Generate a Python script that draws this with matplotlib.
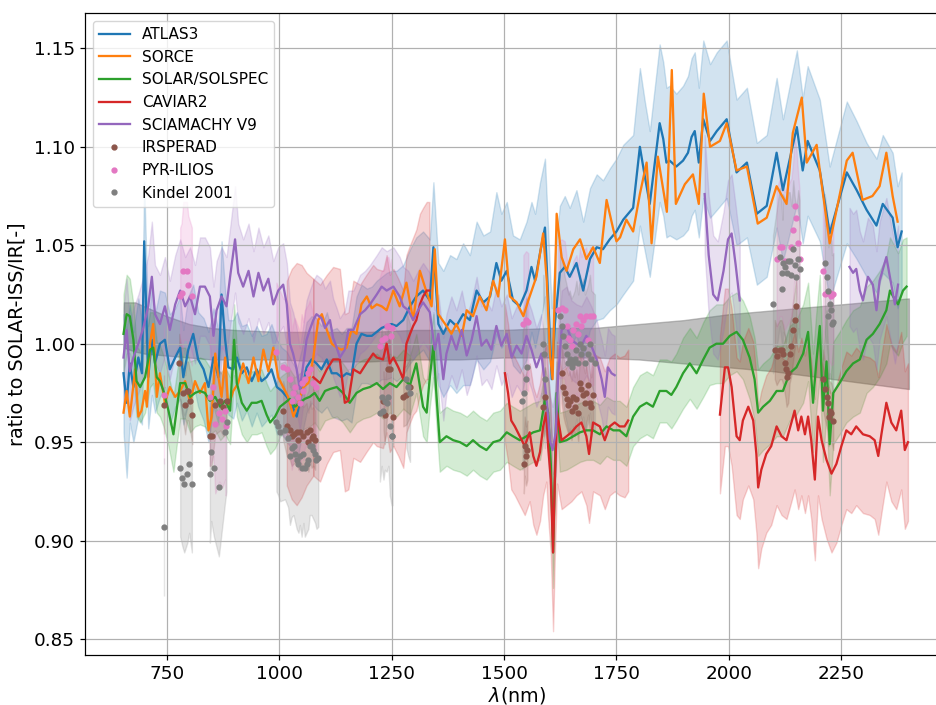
import numpy as np
import matplotlib
matplotlib.use("Agg")
import matplotlib.pyplot as plt

# ---------------- data (wavelength nm, ratio, uncertainty) ----------------
ATLAS3 = np.array([
    (654, 0.985, 0.030), (661, 0.970, 0.038), (668, 0.990, 0.030), (676, 0.978, 0.028),
    (687, 0.993, 0.030), (695, 0.985, 0.026), (700, 1.052, 0.030), (709, 0.983, 0.026),
    (717, 1.002, 0.028), (724, 0.990, 0.025), (735, 1.000, 0.027), (746, 1.002, 0.024),
    (757, 0.987, 0.028), (769, 0.993, 0.025), (780, 0.998, 0.026), (787, 0.983, 0.024),
    (798, 0.997, 0.027), (809, 1.005, 0.025), (820, 0.992, 0.024), (832, 0.987, 0.026),
    (843, 0.978, 0.028), (854, 0.993, 0.025), (865, 0.983, 0.024), (872, 1.025, 0.027),
    (880, 1.002, 0.025), (887, 0.988, 0.024), (898, 0.987, 0.025), (906, 0.993, 0.023),
    (917, 0.985, 0.024), (928, 0.988, 0.022), (939, 0.981, 0.023), (950, 0.987, 0.022),
    (961, 0.981, 0.023), (972, 0.983, 0.022), (983, 0.987, 0.023), (995, 0.978, 0.024),
    (1006, 0.976, 0.022), (1017, 0.973, 0.023), (1028, 0.969, 0.022), (1039, 0.963, 0.024),
    (1050, 0.975, 0.022), (1061, 0.988, 0.023), (1072, 0.992, 0.022), (1083, 0.990, 0.023),
    (1094, 0.987, 0.022), (1106, 0.992, 0.024), (1117, 0.985, 0.022), (1128, 0.985, 0.023),
    (1139, 0.983, 0.022), (1150, 0.985, 0.023), (1161, 0.984, 0.024), (1172, 1.000, 0.024),
    (1183, 1.005, 0.025), (1195, 1.004, 0.024), (1206, 1.004, 0.025), (1217, 1.006, 0.026),
    (1228, 1.008, 0.026), (1239, 1.009, 0.027), (1250, 1.010, 0.027), (1261, 1.009, 0.028),
    (1276, 1.012, 0.028), (1291, 1.019, 0.029), (1305, 1.024, 0.030), (1320, 1.027, 0.030),
    (1335, 1.022, 0.031), (1343, 1.049, 0.033), (1354, 1.010, 0.031), (1365, 1.005, 0.032),
    (1380, 1.012, 0.033), (1394, 1.009, 0.034), (1409, 1.015, 0.036), (1424, 1.012, 0.033),
    (1439, 1.027, 0.035), (1454, 1.021, 0.034), (1469, 1.024, 0.033), (1483, 1.041, 0.036),
    (1494, 1.032, 0.034), (1506, 1.037, 0.035), (1520, 1.022, 0.033), (1535, 1.019, 0.034),
    (1550, 1.027, 0.035), (1561, 1.039, 0.033), (1569, 1.032, 0.034), (1580, 1.046, 0.036),
    (1591, 1.059, 0.035), (1598, 1.024, 0.034), (1606, 0.982, 0.036), (1613, 1.010, 0.035),
    (1624, 1.036, 0.034), (1635, 1.039, 0.036), (1646, 1.034, 0.035), (1661, 1.041, 0.037),
    (1676, 1.027, 0.035), (1691, 1.043, 0.036), (1706, 1.049, 0.037), (1720, 1.048, 0.035),
    (1735, 1.053, 0.036), (1750, 1.057, 0.037), (1765, 1.063, 0.038), (1787, 1.069, 0.037),
    (1802, 1.100, 0.040), (1813, 1.085, 0.038), (1824, 1.071, 0.037), (1846, 1.112, 0.040),
    (1854, 1.104, 0.039), (1861, 1.092, 0.038), (1868, 1.093, 0.038), (1883, 1.090, 0.037),
    (1898, 1.093, 0.038), (1909, 1.097, 0.039), (1917, 1.105, 0.040), (1924, 1.108, 0.040),
    (1933, 1.092, 0.038), (1943, 1.114, 0.040), (1958, 1.103, 0.039), (1973, 1.108, 0.040),
    (1995, 1.114, 0.040), (2017, 1.087, 0.037), (2040, 1.092, 0.038), (2062, 1.066, 0.036),
    (2084, 1.070, 0.036), (2106, 1.097, 0.038), (2120, 1.078, 0.036), (2151, 1.110, 0.039),
    (2164, 1.088, 0.037), (2175, 1.103, 0.038), (2202, 1.088, 0.036), (2224, 1.056, 0.034),
    (2262, 1.087, 0.036), (2284, 1.078, 0.035), (2306, 1.068, 0.034), (2328, 1.060, 0.034),
    (2342, 1.071, 0.035), (2364, 1.064, 0.033), (2375, 1.049, 0.031), (2384, 1.057, 0.030),
])

SORCE = np.array([
    (654, 0.965), (661, 0.976), (668, 0.963), (680, 0.987), (687, 0.963), (694, 0.966),
    (702, 0.976), (706, 0.968), (713, 1.000), (720, 1.010), (728, 0.973), (735, 0.985),
    (746, 0.970), (757, 0.978), (769, 0.973), (780, 0.976), (791, 0.981), (802, 0.970),
    (813, 0.981), (824, 0.975), (835, 0.980), (843, 0.956), (850, 0.963), (858, 0.995),
    (865, 0.983), (872, 0.973), (880, 0.993), (887, 0.968), (898, 0.976), (909, 0.980),
    (920, 0.990), (932, 0.980), (943, 0.993), (954, 0.981), (965, 0.997), (976, 0.986),
    (987, 0.998), (998, 0.983), (1009, 0.978), (1020, 0.973), (1032, 0.963), (1043, 0.970),
    (1054, 0.978), (1065, 0.980), (1076, 0.993), (1087, 1.012), (1095, 1.015), (1106, 1.007),
    (1117, 1.000), (1128, 0.998), (1139, 0.997), (1150, 0.998), (1161, 1.007), (1172, 1.005),
    (1183, 1.020), (1195, 1.024), (1206, 1.018), (1217, 1.020), (1228, 1.019), (1239, 1.017),
    (1254, 1.027), (1268, 1.019), (1283, 1.031), (1298, 1.012), (1313, 1.037), (1328, 1.026),
    (1339, 1.019), (1346, 1.048), (1354, 1.015), (1363, 1.012), (1372, 1.009), (1383, 1.005),
    (1394, 1.010), (1406, 1.004), (1417, 1.017), (1431, 1.014), (1446, 1.024), (1461, 1.017),
    (1476, 1.032), (1487, 1.024), (1502, 1.053), (1513, 1.024), (1528, 1.021), (1543, 1.014),
    (1554, 1.022), (1572, 1.034), (1587, 1.056), (1595, 1.032), (1602, 0.995), (1608, 0.982),
    (1617, 1.066), (1628, 1.044), (1639, 1.037), (1654, 1.048), (1669, 1.053), (1683, 1.043),
    (1698, 1.049), (1713, 1.041), (1728, 1.073), (1743, 1.058), (1750, 1.052), (1758, 1.054),
    (1772, 1.063), (1787, 1.057), (1802, 1.076), (1817, 1.092), (1828, 1.051), (1842, 1.095),
    (1862, 1.067), (1873, 1.139), (1882, 1.071), (1902, 1.081), (1920, 1.086), (1933, 1.071),
    (1944, 1.127), (1958, 1.100), (1980, 1.103), (1995, 1.112), (2017, 1.088), (2040, 1.090),
    (2064, 1.061), (2084, 1.064), (2106, 1.080), (2128, 1.071), (2142, 1.107), (2162, 1.125),
    (2173, 1.092), (2195, 1.101), (2202, 1.088), (2224, 1.051), (2262, 1.093), (2275, 1.097),
    (2297, 1.073), (2319, 1.075), (2335, 1.080), (2350, 1.097), (2364, 1.075), (2375, 1.062),
])

SOLSPEC = np.array([
    (654, 1.005, 0.020), (661, 1.015, 0.020), (668, 1.014, 0.019), (676, 1.002, 0.018),
    (683, 0.981, 0.018), (691, 0.978, 0.018), (702, 0.983, 0.018), (713, 0.997, 0.019),
    (720, 0.998, 0.018), (728, 0.983, 0.018), (735, 0.981, 0.018), (743, 0.976, 0.018),
    (754, 0.966, 0.018), (765, 0.954, 0.019), (772, 0.966, 0.018), (780, 0.980, 0.018),
    (791, 0.980, 0.018), (802, 0.973, 0.018), (813, 0.975, 0.017), (824, 0.976, 0.017),
    (835, 0.975, 0.017), (846, 0.971, 0.017), (858, 0.973, 0.017), (869, 0.968, 0.017),
    (880, 0.971, 0.017), (891, 0.966, 0.017), (900, 1.002, 0.018), (906, 0.980, 0.017),
    (917, 0.970, 0.016), (928, 0.966, 0.016), (939, 0.970, 0.016), (950, 0.970, 0.016),
    (961, 0.971, 0.016), (972, 0.964, 0.016), (980, 0.960, 0.016), (991, 0.963, 0.016),
    (1002, 0.968, 0.015), (1013, 0.970, 0.015), (1024, 0.972, 0.015), (1035, 0.968, 0.015),
    (1046, 0.970, 0.015), (1057, 0.972, 0.015), (1068, 0.973, 0.015), (1079, 0.975, 0.015),
    (1090, 0.971, 0.015), (1102, 0.976, 0.015), (1113, 0.977, 0.015), (1128, 0.978, 0.015),
    (1142, 0.975, 0.015), (1157, 0.970, 0.015), (1172, 0.975, 0.015), (1187, 0.977, 0.015),
    (1202, 0.978, 0.015), (1217, 0.980, 0.015), (1231, 0.977, 0.015), (1246, 0.980, 0.015),
    (1261, 0.978, 0.015), (1276, 0.982, 0.015), (1291, 0.979, 0.015), (1305, 0.990, 0.015),
    (1320, 0.968, 0.015), (1328, 0.965, 0.015), (1335, 0.983, 0.015), (1343, 0.999, 0.016),
    (1350, 0.973, 0.015), (1357, 0.950, 0.015), (1372, 0.953, 0.015), (1387, 0.951, 0.015),
    (1402, 0.950, 0.015), (1417, 0.948, 0.015), (1431, 0.951, 0.015), (1446, 0.948, 0.015),
    (1461, 0.946, 0.015), (1476, 0.950, 0.015), (1491, 0.951, 0.015), (1506, 0.955, 0.015),
    (1520, 0.953, 0.015), (1535, 0.951, 0.015), (1550, 0.953, 0.015), (1565, 0.955, 0.015),
    (1580, 0.956, 0.015), (1591, 0.972, 0.016), (1598, 0.965, 0.016), (1604, 0.939, 0.017),
    (1609, 0.894, 0.018), (1617, 0.975, 0.016), (1624, 0.950, 0.015), (1639, 0.951, 0.015),
    (1654, 0.953, 0.015), (1669, 0.955, 0.015), (1683, 0.956, 0.015), (1698, 0.956, 0.015),
    (1713, 0.954, 0.015), (1728, 0.958, 0.015), (1743, 0.956, 0.015), (1757, 0.956, 0.015),
    (1772, 0.953, 0.015), (1787, 0.963, 0.015), (1802, 0.968, 0.016), (1817, 0.970, 0.016),
    (1831, 0.968, 0.016), (1846, 0.976, 0.016), (1861, 0.976, 0.016), (1872, 0.974, 0.017),
    (1883, 0.978, 0.017), (1898, 0.985, 0.018), (1913, 0.990, 0.018), (1928, 0.985, 0.018),
    (1943, 0.992, 0.019), (1957, 0.998, 0.019), (1972, 1.000, 0.020), (1987, 1.000, 0.020),
    (2002, 1.004, 0.020), (2017, 1.006, 0.020), (2031, 1.002, 0.020), (2046, 0.993, 0.021),
    (2057, 0.982, 0.021), (2065, 0.965, 0.022), (2076, 0.968, 0.022), (2091, 0.971, 0.022),
    (2106, 0.976, 0.023), (2120, 0.976, 0.023), (2135, 0.985, 0.024), (2150, 0.988, 0.024),
    (2165, 0.995, 0.025), (2176, 1.006, 0.025), (2187, 0.970, 0.025), (2194, 0.990, 0.025),
    (2202, 1.009, 0.026), (2209, 0.966, 0.026), (2217, 0.991, 0.026), (2224, 0.949, 0.026),
    (2232, 0.975, 0.026), (2246, 0.980, 0.026), (2261, 0.986, 0.026), (2276, 0.990, 0.027),
    (2291, 0.992, 0.027), (2306, 1.002, 0.027), (2320, 1.005, 0.027), (2335, 1.010, 0.027),
    (2350, 1.017, 0.027), (2358, 1.027, 0.027), (2365, 1.024, 0.027), (2376, 1.020, 0.026),
    (2387, 1.027, 0.026), (2395, 1.029, 0.025),
])

CAVIAR2 = np.array([
    (1076, 0.983, 0.050), (1091, 0.980, 0.050), (1106, 0.987, 0.048),
    (1120, 0.992, 0.047), (1135, 0.992, 0.046), (1146, 0.970, 0.045), (1154, 0.971, 0.045),
    (1165, 0.987, 0.045), (1180, 0.985, 0.045), (1194, 0.990, 0.045), (1209, 0.995, 0.045),
    (1217, 0.993, 0.045), (1231, 0.992, 0.045), (1239, 1.000, 0.045), (1246, 0.990, 0.045),
    (1254, 0.993, 0.045), (1265, 0.988, 0.045), (1276, 0.982, 0.045), (1283, 1.000, 0.045),
    (1291, 1.005, 0.045), (1298, 1.009, 0.045), (1305, 1.012, 0.046), (1313, 1.020, 0.046),
    (1320, 1.024, 0.045), (1328, 1.027, 0.045), (1334, 1.027, 0.045),
    (1502, 0.985, 0.035), (1509, 0.975, 0.035), (1516, 0.961, 0.035), (1524, 0.958, 0.035),
    (1535, 0.953, 0.035), (1546, 0.948, 0.035), (1557, 0.955, 0.035), (1565, 0.943, 0.035),
    (1572, 0.938, 0.035), (1580, 0.945, 0.035), (1587, 0.958, 0.035), (1594, 0.965, 0.035),
    (1598, 0.948, 0.036), (1604, 0.931, 0.038), (1609, 0.894, 0.040), (1613, 0.931, 0.038),
    (1618, 0.965, 0.036), (1628, 0.951, 0.035), (1639, 0.953, 0.035), (1650, 0.955, 0.035),
    (1661, 0.958, 0.035), (1672, 0.960, 0.035), (1683, 0.953, 0.035), (1689, 0.944, 0.035),
    (1698, 0.960, 0.035), (1713, 0.958, 0.035), (1724, 0.951, 0.035), (1735, 0.958, 0.035),
    (1746, 0.960, 0.035), (1757, 0.958, 0.035), (1768, 0.958, 0.036), (1776, 0.961, 0.036),
    (1980, 0.964, 0.040), (1991, 0.988, 0.040), (1998, 0.988, 0.040), (2006, 0.978, 0.040),
    (2017, 0.953, 0.040), (2024, 0.951, 0.040), (2031, 0.961, 0.040), (2043, 0.968, 0.040),
    (2054, 0.961, 0.040), (2061, 0.944, 0.040), (2065, 0.927, 0.041), (2072, 0.936, 0.040),
    (2083, 0.944, 0.040), (2094, 0.948, 0.040), (2106, 0.958, 0.040), (2117, 0.953, 0.040),
    (2128, 0.951, 0.040), (2139, 0.960, 0.040), (2146, 0.966, 0.040), (2154, 0.956, 0.040),
    (2161, 0.963, 0.040), (2169, 0.954, 0.040), (2176, 0.963, 0.040), (2183, 0.951, 0.040),
    (2191, 0.931, 0.041), (2198, 0.963, 0.040), (2206, 0.951, 0.040), (2217, 0.941, 0.040),
    (2228, 0.934, 0.040), (2239, 0.939, 0.040), (2250, 0.948, 0.040), (2261, 0.956, 0.040),
    (2272, 0.954, 0.040), (2283, 0.958, 0.040), (2298, 0.954, 0.040), (2313, 0.953, 0.040),
    (2324, 0.951, 0.040), (2332, 0.943, 0.040), (2339, 0.954, 0.040), (2350, 0.970, 0.040),
    (2361, 0.960, 0.040), (2372, 0.956, 0.040), (2383, 0.966, 0.040), (2391, 0.946, 0.040),
    (2398, 0.950, 0.040),
])
# CAVIAR2 uncertainty envelope ahead of its first plotted point (nm, low, high)
CAVIAR2_LEAD_BAND = np.array([
    (1017, 0.928, 1.032), (1028, 0.921, 1.038), (1039, 0.918, 1.041), (1050, 0.922, 1.040),
    (1061, 0.928, 1.036), (1076, 0.933, 1.033),
])

SCIAMACHY = np.array([
    (654, 0.993, 0.025), (661, 1.007, 0.026), (668, 0.986, 0.025), (676, 0.993, 0.025),
    (687, 1.000, 0.025), (698, 1.008, 0.026), (709, 1.019, 0.026), (717, 1.034, 0.028),
    (724, 1.015, 0.025), (735, 1.010, 0.025), (746, 1.019, 0.025), (757, 1.007, 0.025),
    (769, 1.020, 0.025), (780, 1.027, 0.026), (791, 1.019, 0.025), (802, 1.024, 0.025),
    (813, 1.015, 0.025), (824, 1.029, 0.025), (835, 1.029, 0.025), (846, 1.024, 0.025),
    (854, 1.004, 0.025), (861, 1.017, 0.025), (872, 1.024, 0.025), (883, 1.019, 0.025),
    (891, 1.034, 0.025), (902, 1.053, 0.027), (909, 1.036, 0.025), (920, 1.029, 0.024),
    (932, 1.037, 0.024), (943, 1.024, 0.023), (954, 1.036, 0.023), (965, 1.027, 0.022),
    (976, 1.033, 0.022), (987, 1.020, 0.022), (998, 1.027, 0.022), (1009, 1.030, 0.021),
    (1017, 1.020, 0.021), (1024, 1.000, 0.021), (1031, 0.995, 0.021), (1039, 0.987, 0.021),
    (1046, 0.977, 0.021), (1054, 0.990, 0.020), (1061, 1.002, 0.020), (1068, 1.007, 0.020),
    (1076, 1.012, 0.020), (1083, 1.015, 0.020), (1094, 1.013, 0.020), (1102, 1.008, 0.020),
    (1113, 1.012, 0.020), (1120, 1.003, 0.020), (1128, 0.998, 0.020), (1135, 0.993, 0.020),
    (1146, 0.997, 0.020), (1154, 1.007, 0.020), (1165, 1.007, 0.020), (1180, 1.015, 0.020),
    (1191, 1.017, 0.020), (1202, 1.020, 0.020), (1217, 1.025, 0.020), (1228, 1.029, 0.020),
    (1239, 1.027, 0.020), (1254, 1.029, 0.020), (1268, 1.024, 0.020), (1276, 1.019, 0.020),
    (1287, 1.017, 0.020), (1298, 1.012, 0.020), (1309, 1.017, 0.020), (1320, 1.021, 0.020),
    (1335, 1.016, 0.020), (1346, 0.997, 0.020), (1354, 1.005, 0.020), (1365, 0.982, 0.021),
    (1372, 0.995, 0.020), (1383, 1.004, 0.020), (1394, 0.997, 0.020), (1406, 1.007, 0.020),
    (1417, 0.994, 0.020), (1428, 1.002, 0.020), (1439, 1.014, 0.020), (1450, 0.999, 0.020),
    (1461, 1.002, 0.020), (1472, 0.997, 0.020), (1483, 1.009, 0.020), (1494, 0.999, 0.020),
    (1506, 1.005, 0.020), (1517, 0.993, 0.020), (1528, 0.999, 0.020), (1539, 0.995, 0.020),
    (1550, 1.004, 0.020), (1561, 0.997, 0.020), (1572, 0.988, 0.020), (1583, 0.995, 0.020),
    (1595, 0.971, 0.021), (1602, 0.951, 0.022), (1608, 0.946, 0.022), (1615, 0.955, 0.022),
    (1620, 0.982, 0.021), (1628, 1.007, 0.020), (1639, 1.009, 0.020), (1650, 1.002, 0.020),
    (1661, 1.000, 0.020), (1672, 0.999, 0.020), (1683, 1.004, 0.020), (1694, 0.999, 0.020),
    (1706, 0.992, 0.020), (1717, 0.982, 0.020), (1724, 0.973, 0.021), (1731, 0.988, 0.020),
    (1739, 0.985, 0.020), (1746, 0.984, 0.020),
    (1946, 1.076, 0.030), (1955, 1.045, 0.030), (1965, 1.025, 0.030), (1975, 1.022, 0.030),
    (1988, 1.037, 0.030), (1998, 1.053, 0.030), (2006, 1.056, 0.030), (2015, 1.040, 0.030),
    (2024, 1.022, 0.030),
    (2268, 1.039, 0.030), (2276, 1.036, 0.030), (2283, 1.038, 0.030), (2291, 1.027, 0.030),
    (2298, 1.022, 0.030), (2309, 1.034, 0.030), (2320, 1.030, 0.030), (2328, 1.017, 0.030),
    (2335, 1.032, 0.030), (2350, 1.044, 0.030), (2361, 1.030, 0.030), (2369, 1.020, 0.030),
    (2376, 1.030, 0.030),
])

IRSPERAD = np.array([
    (745, 0.969), (778, 0.990), (787, 0.975), (791, 0.969), (795, 0.976), (798, 0.976),
    (802, 0.971), (807, 0.964), (846, 0.953), (850, 0.953), (858, 0.969), (869, 0.971),
    (876, 0.968), (883, 0.971), (1009, 0.966), (1017, 0.958), (1024, 0.956), (1028, 0.953),
    (1032, 0.954), (1039, 0.955), (1043, 0.951), (1046, 0.955), (1054, 0.953), (1061, 0.955),
    (1065, 0.950), (1069, 0.956), (1072, 0.952), (1076, 0.953), (1080, 0.951), (1232, 0.971),
    (1235, 0.964), (1243, 0.987), (1246, 0.987), (1254, 0.963), (1276, 0.973), (1283, 0.974),
    (1291, 0.978), (1544, 0.939), (1546, 0.948), (1549, 0.943), (1552, 0.946), (1587, 0.968),
    (1591, 0.973), (1628, 0.985), (1632, 0.978), (1635, 0.975), (1639, 0.972), (1643, 0.969),
    (1646, 0.971), (1650, 0.966), (1654, 0.973), (1657, 0.968), (1661, 0.972), (1665, 0.965),
    (1669, 0.980), (1672, 0.977), (1676, 0.974), (1680, 0.970), (1683, 0.975), (1687, 0.979),
    (1691, 0.970), (1694, 0.968), (1698, 0.974), (2102, 0.997), (2106, 0.994), (2113, 0.997),
    (2117, 0.997), (2120, 0.995), (2124, 0.990), (2126, 0.987), (2128, 0.983), (2132, 0.985),
    (2135, 0.995), (2139, 0.999), (2143, 1.007), (2146, 1.012), (2150, 1.019), (2209, 0.982),
    (2213, 0.977), (2217, 0.973), (2220, 0.970), (2222, 0.963), (2224, 0.966), (2228, 0.965),
    (2232, 0.961),
])

PYR_ILIOS = np.array([
    (745, 0.974), (780, 1.024), (783, 1.026), (787, 1.037), (795, 1.037), (798, 1.030),
    (806, 1.024), (846, 0.973), (854, 0.978), (858, 0.959), (867, 0.965), (874, 0.962),
    (880, 0.966), (881, 0.958), (994, 0.996), (1009, 0.988), (1017, 0.987), (1024, 0.982),
    (1028, 0.971), (1031, 0.975), (1035, 0.978), (1043, 0.973), (1046, 0.970), (1050, 0.980),
    (1054, 0.976), (1057, 0.982), (1065, 0.985), (1068, 0.987), (1076, 0.980), (1083, 0.978),
    (1224, 0.999), (1228, 1.002), (1235, 1.003), (1239, 1.009), (1243, 1.009), (1248, 1.004),
    (1250, 1.008), (1543, 1.010), (1549, 1.012), (1554, 1.011), (1620, 1.017), (1628, 1.018),
    (1635, 1.017), (1639, 1.009), (1643, 1.003), (1646, 1.002), (1650, 0.999), (1654, 1.007),
    (1661, 1.010), (1665, 1.005), (1669, 1.014), (1672, 1.009), (1676, 1.012), (1683, 1.014),
    (1687, 1.002), (1691, 1.014), (1698, 1.014), (2106, 1.043), (2113, 1.049), (2117, 1.049),
    (2124, 1.042), (2139, 1.049), (2143, 1.058), (2146, 1.070), (2150, 1.064), (2154, 1.051),
    (2157, 1.043), (2209, 1.037), (2213, 1.025), (2220, 1.026), (2224, 1.026), (2228, 1.024),
    (2232, 1.025),
])

KINDEL = np.array([
    (745, 0.907), (780, 0.937), (785, 0.932), (789, 0.929), (796, 0.934), (800, 0.939),
    (806, 0.929), (846, 0.934), (849, 0.945), (855, 0.937), (866, 0.927), (880, 0.955),
    (883, 0.960), (994, 0.960), (998, 0.958), (1002, 0.955), (1013, 0.956), (1020, 0.952),
    (1024, 0.943), (1028, 0.947), (1032, 0.948), (1036, 0.944), (1039, 0.941), (1043, 0.939),
    (1046, 0.943), (1050, 0.937), (1054, 0.944), (1057, 0.937), (1061, 0.939), (1065, 0.941),
    (1068, 0.948), (1072, 0.948), (1076, 0.946), (1080, 0.944), (1083, 0.941), (1087, 0.942),
    (1224, 0.965), (1228, 0.973), (1232, 0.966), (1235, 0.971), (1239, 0.970), (1243, 0.973),
    (1246, 0.958), (1250, 0.953), (1252, 0.953), (1283, 0.982), (1287, 0.978), (1291, 0.975),
    (1541, 0.971), (1545, 0.975), (1548, 0.982), (1550, 0.988), (1587, 1.000), (1589, 0.995),
    (1591, 0.982), (1624, 1.014), (1628, 1.009), (1632, 1.004), (1635, 0.999), (1639, 0.995),
    (1643, 0.990), (1646, 0.992), (1650, 0.988), (1654, 0.990), (1657, 0.992), (1661, 0.997),
    (1665, 0.990), (1669, 1.000), (1672, 0.995), (1676, 0.998), (1680, 0.990), (1687, 0.995),
    (1691, 1.000), (1694, 0.992), (1702, 0.990), (2098, 1.020), (2113, 1.044), (2117, 1.036),
    (2119, 1.028), (2120, 1.041), (2124, 1.039), (2128, 1.036), (2132, 1.042), (2135, 1.042),
    (2139, 1.035), (2143, 1.048), (2146, 1.040), (2150, 1.034), (2154, 1.043), (2157, 1.038),
    (2213, 1.041), (2217, 1.034), (2220, 1.027), (2221, 1.014), (2224, 1.020), (2228, 1.017),
    (2229, 1.010), (2232, 1.011),
])

IRSPERAD_UNC = 0.015
PYR_ILIOS_UNC = 0.035
KINDEL_UNC = 0.035

# reference (SOLAR-ISS) uncertainty envelope
REF_NM = [655, 680, 700, 750, 800, 850, 900, 1000, 1100, 1200, 1300, 1400, 1500,
          1600, 1700, 1800, 1900, 2000, 2100, 2200, 2300, 2400]
REF_HI = [1.021, 1.021, 1.019, 1.014, 1.010, 1.008, 1.007, 1.006, 1.006, 1.006, 1.007,
          1.007, 1.007, 1.008, 1.008, 1.010, 1.012, 1.015, 1.017, 1.019, 1.021, 1.023]
REF_LO = [0.998, 0.996, 0.995, 0.994, 0.993, 0.992, 0.992, 0.992, 0.991, 0.991, 0.992,
          0.992, 0.993, 0.993, 0.993, 0.992, 0.990, 0.988, 0.986, 0.983, 0.980, 0.977]

# ---------------- drawing ----------------
S = 1.1
plt.rcParams.update({
    "font.size": 12 * S,
    "axes.linewidth": 0.8 * S,
    "xtick.major.width": 0.8 * S,
    "ytick.major.width": 0.8 * S,
    "xtick.major.size": 3.5 * S,
    "ytick.major.size": 3.5 * S,
    "grid.linewidth": 0.8 * S,
})

fig = plt.figure(figsize=(9.36, 7.05), dpi=100)
ax = fig.add_axes([0.0911, 0.0709, 0.9217, 0.9102])


def split(arr, gap):
    arr = arr[np.argsort(arr[:, 0], kind="stable")]
    idx = np.where(np.diff(arr[:, 0]) > gap)[0] + 1
    return np.split(arr, idx)


ax.fill_between(REF_NM, REF_LO, REF_HI, color="gray", alpha=0.5)

LW = 1.5 * S
series = [
    (ATLAS3, "tab:blue", "ATLAS3", True),
    (SORCE, "tab:orange", "SORCE", False),
    (SOLSPEC, "tab:green", "SOLAR/SOLSPEC", True),
    (CAVIAR2, "tab:red", "CAVIAR2", True),
    (SCIAMACHY, "tab:purple", "SCIAMACHY V9", True),
]
for data, col, lab, band in series:
    if lab == "CAVIAR2":
        ax.fill_between(CAVIAR2_LEAD_BAND[:, 0], CAVIAR2_LEAD_BAND[:, 1],
                        CAVIAR2_LEAD_BAND[:, 2], color=col, alpha=0.2)
    for i, seg in enumerate(split(data, 60)):
        if band:
            ax.fill_between(seg[:, 0], seg[:, 1] - seg[:, 2], seg[:, 1] + seg[:, 2],
                            color=col, alpha=0.2)
        ax.plot(seg[:, 0], seg[:, 1], color=col, lw=LW, label=lab if i == 0 else None)

dots = [
    (IRSPERAD, IRSPERAD_UNC, "tab:brown", "IRSPERAD"),
    (PYR_ILIOS, PYR_ILIOS_UNC, "tab:pink", "PYR-ILIOS"),
    (KINDEL, KINDEL_UNC, "tab:gray", "Kindel 2001"),
]
for data, unc, col, lab in dots:
    for seg in split(data, 20):
        ax.fill_between(seg[:, 0], seg[:, 1] - unc, seg[:, 1] + unc, color=col, alpha=0.2)
    ax.plot(data[:, 0], data[:, 1], ls="none", marker=".", ms=7, color=col, label=lab)

ax.set_xlim(569, 2487)
ax.set_ylim(0.8419, 1.1678)
ax.set_yticks([0.85, 0.90, 0.95, 1.00, 1.05, 1.10, 1.15])
ax.grid(True)
ax.set_xlabel(r"$\lambda$(nm)", fontsize=12.5 * S, labelpad=1)
ax.set_ylabel("ratio to SOLAR-ISS/IR[-]", fontsize=12.5 * S, labelpad=5)
ax.legend(loc="upper left", fontsize=10 * S)

fig.savefig("out.png", dpi=100)
